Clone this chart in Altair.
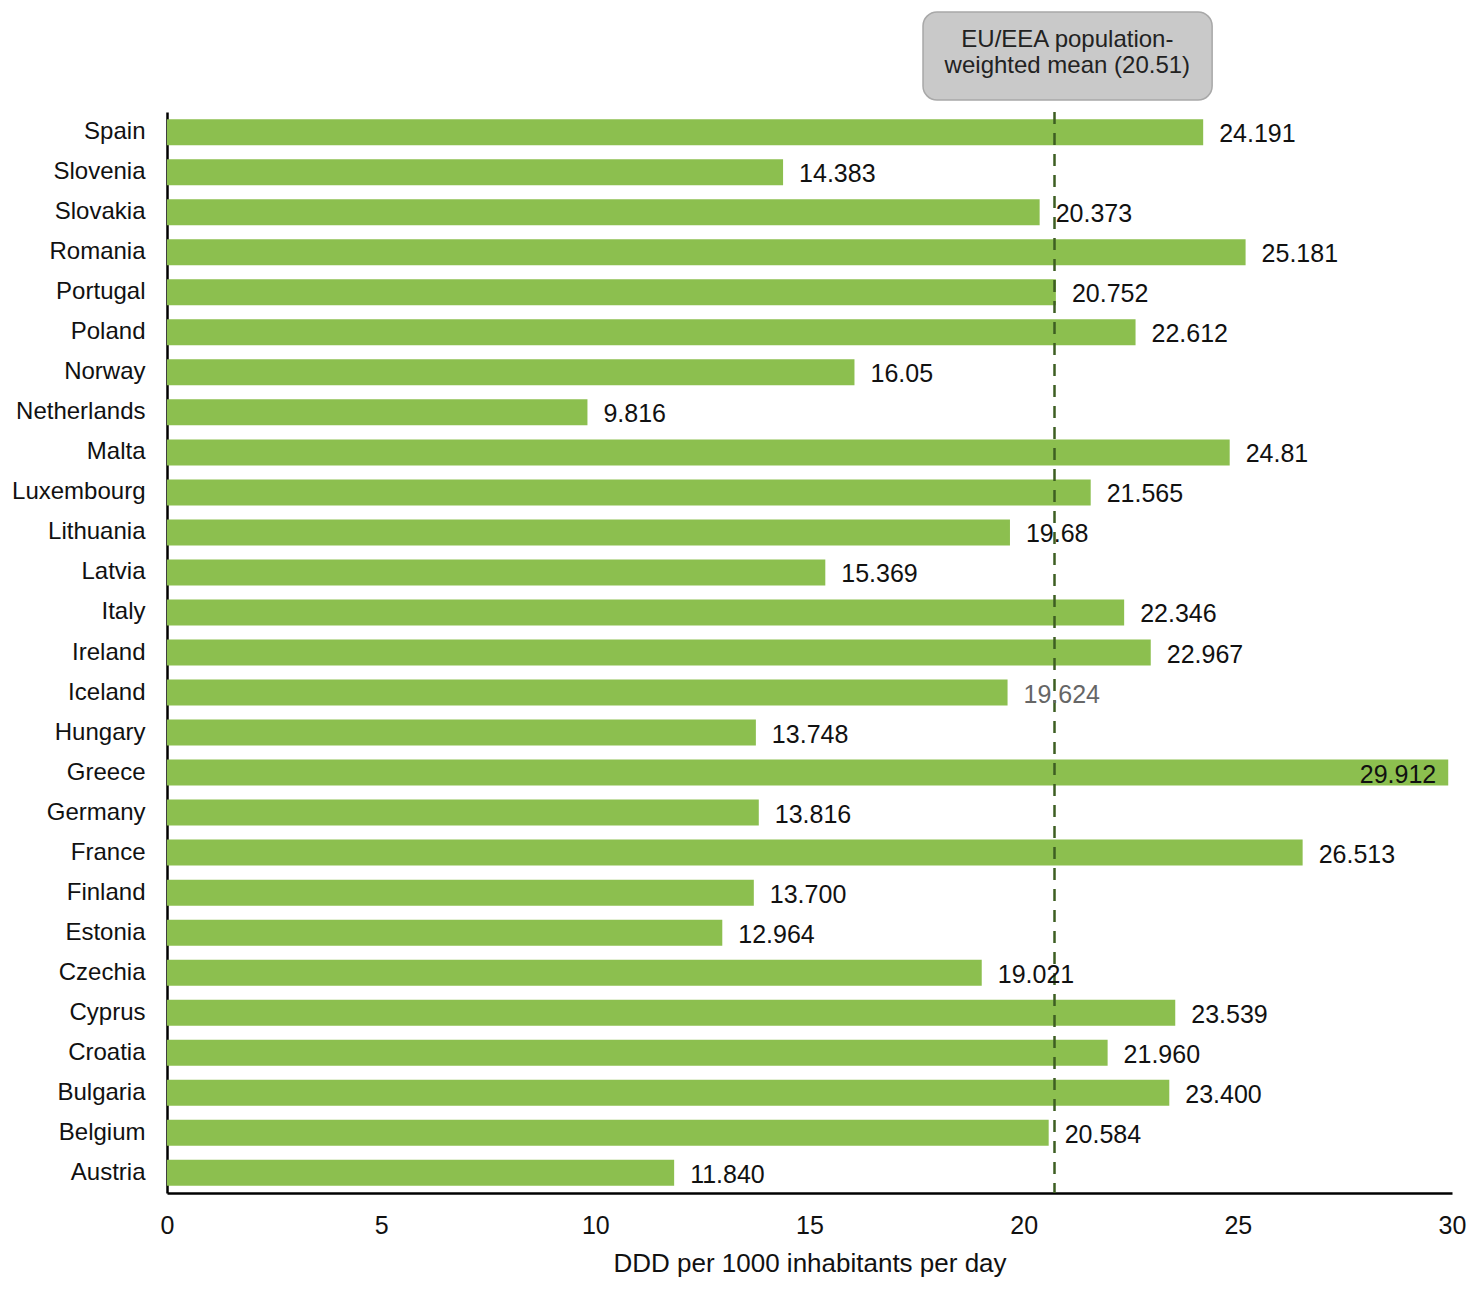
import altair as alt
import pandas as pd

countries = ["Spain", "Slovenia", "Slovakia", "Romania", "Portugal", "Poland", "Norway",
             "Netherlands", "Malta", "Luxembourg", "Lithuania", "Latvia", "Italy", "Ireland",
             "Iceland", "Hungary", "Greece", "Germany", "France", "Finland", "Estonia",
             "Czechia", "Cyprus", "Croatia", "Bulgaria", "Belgium", "Austria"]
values = [24.191, 14.383, 20.373, 25.181, 20.752, 22.612, 16.05,
          9.816, 24.81, 21.565, 19.68, 15.369, 22.346, 22.967,
          19.624, 13.748, 29.912, 13.816, 26.513, 13.700, 12.964,
          19.021, 23.539, 21.960, 23.400, 20.584, 11.840]
value_labels = ["24.191", "14.383", "20.373", "25.181", "20.752", "22.612", "16.05",
                "9.816", "24.81", "21.565", "19.68", "15.369", "22.346", "22.967",
                "19.624", "13.748", "29.912", "13.816", "26.513", "13.700", "12.964",
                "19.021", "23.539", "21.960", "23.400", "20.584", "11.840"]
label_colors = ["#111111"] * len(countries)
label_colors[countries.index("Iceland")] = "#666666"

mean_position = [20.72]
mean_text = "EU/EEA population-\nweighted mean (20.51)"

W, H = 1285, 1081

df = pd.DataFrame({"country": countries, "value": values,
                   "label": value_labels, "lcolor": label_colors})
inside = df[df["value"] > 29]
outside = df[df["value"] <= 29]

xscale = alt.Scale(domain=[0, 30], nice=False, zero=True)
yscale = alt.Scale(paddingInner=0.35, paddingOuter=0.18)

ysort = countries

bars = alt.Chart(df).mark_bar(color="#8cbf4f").encode(
    x=alt.X("value:Q", scale=xscale,
            axis=alt.Axis(values=[0, 5, 10, 15, 20, 25, 30], grid=False, ticks=False,
                          domainColor="#000000", domainWidth=2.5, labelFontSize=25,
                          labelColor="#111111", labelPadding=20, labelFlush=False,
                          title="DDD per 1000 inhabitants per day", titleFontSize=26,
                          titleFontWeight="normal", titleColor="#111111", titlePadding=12)),
    y=alt.Y("country:N", sort=ysort, scale=yscale,
            axis=alt.Axis(title=None, ticks=False, grid=False, domainColor="#000000",
                          domainWidth=2.5, labelFontSize=24, labelColor="#111111",
                          labelPadding=22)),
)

labels_out = alt.Chart(outside).mark_text(align="left", baseline="middle", dx=16, dy=2,
                                          fontSize=25).encode(
    x=alt.X("value:Q", scale=xscale),
    y=alt.Y("country:N", sort=ysort, scale=yscale),
    text="label:N",
    color=alt.Color("lcolor:N", scale=None),
)

labels_in = alt.Chart(inside).mark_text(align="right", baseline="middle", dx=-12, dy=2,
                                        fontSize=25, color="#111111").encode(
    x=alt.X("value:Q", scale=xscale),
    y=alt.Y("country:N", sort=ysort, scale=yscale),
    text="label:N",
)

mean_df = pd.DataFrame({"mean": mean_position})
rule = alt.Chart(mean_df).mark_rule(color="#3d5e22", strokeWidth=2.5,
                                     strokeDash=[12, 9]).encode(
    x=alt.X("mean:Q", scale=xscale),
    y=alt.value(0),
    y2=alt.value(H),
)

box_df = pd.DataFrame({"x0": [17.65], "x1": [24.40], "xc": [21.02], "t": [mean_text]})
box = alt.Chart(box_df).mark_rect(fill="#c9c9c9", stroke="#a8a8a8", strokeWidth=1.5,
                                   cornerRadius=14).encode(
    x=alt.X("x0:Q", scale=xscale),
    x2="x1:Q",
    y=alt.value(-100),
    y2=alt.value(-12),
)
box_text = alt.Chart(box_df).mark_text(lineBreak="\n", fontSize=24, color="#222222",
                                        align="center", baseline="middle",
                                        lineHeight=26).encode(
    x=alt.X("xc:Q", scale=xscale),
    y=alt.value(-72),
    text="t:N",
)

chart = alt.layer(bars, rule, labels_out, labels_in, box, box_text).properties(
    width=W, height=H,
    autosize=alt.AutoSizeParams(type="none"),
    padding={"left": 159, "top": 104, "right": 16, "bottom": 95},
).configure(font="Liberation Sans").configure_view(stroke=None)

chart.save("out.html", embed_options={"renderer": "svg", "actions": False})
